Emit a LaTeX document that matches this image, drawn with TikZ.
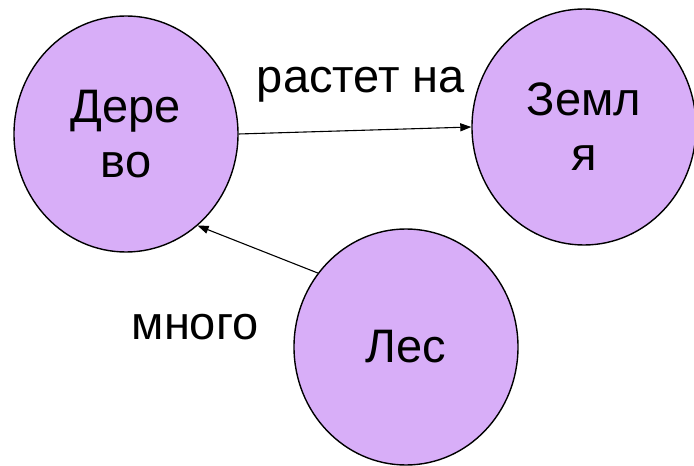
\documentclass[tikz,border=0pt]{standalone}
\usepackage{fontspec}
\setmainfont{Liberation Sans}
\usetikzlibrary{shapes.geometric, arrows.meta}
\definecolor{lavender}{RGB}{216,174,248}
\tikzset{
  concept/.style={ellipse, draw=black, line width=1.4pt, fill=lavender,
    minimum width=224pt, minimum height=236pt, inner sep=0pt, align=center},
  link/.style={-{Triangle[length=11pt, width=8pt]}, line width=1.1pt}
}
\begin{document}
\begin{tikzpicture}[x=1pt, y=1pt, every node/.style={font=\fontsize{47}{55}\selectfont}]
  \useasboundingbox (0,0) rectangle (694,466);

  % Concepts
  \node[concept] (derevo) at (126,332) {Дере\\во};
  \node[concept] (zemlya) at (584,339) {Земл\\я};
  \node[concept] (les) at (406,119) {Лес};

  % Relations
  \draw[link] (derevo.east) -- (zemlya.west);
  \draw[link] (les.140) -- (derevo.-52);

  % Relation labels
  \node[anchor=base] (rastet) at (361,373) {растет на};
  \node[anchor=base] (mnogo) at (195,126) {много};
\end{tikzpicture}
\end{document}
